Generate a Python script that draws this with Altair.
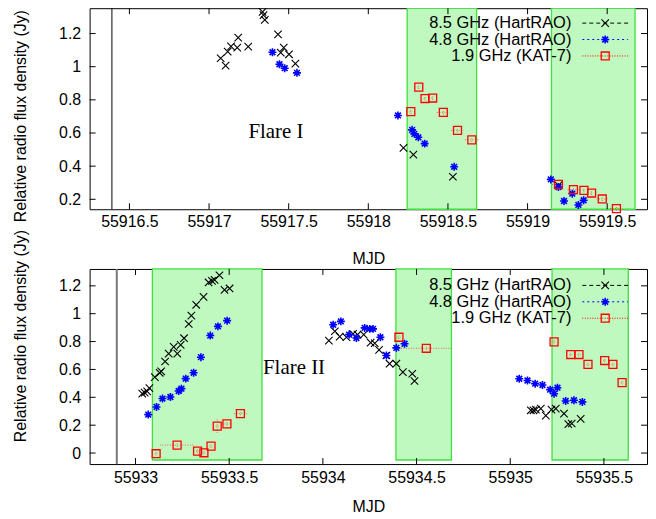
import altair as alt
import pandas as pd

# ---------------- Flare I (top panel) ----------------
f1_85_mjd = [55917.073, 55917.104, 55917.117, 55917.138, 55917.177, 55917.183, 55917.246,
             55917.336, 55917.342, 55917.350, 55917.433, 55917.450, 55917.469, 55917.502,
             55917.542, 55918.221, 55918.283, 55918.531, 55919.194]
f1_85_val = [1.051, 1.007, 1.091, 1.123, 1.115, 1.175, 1.121,
             1.331, 1.311, 1.283, 1.195, 1.085, 1.115, 1.075,
             1.019, 0.510, 0.470, 0.336, 0.284]

f1_48_mjd = [55917.398, 55917.442, 55917.475, 55917.552, 55918.186, 55918.275, 55918.289,
             55918.314, 55918.354, 55918.539, 55919.146, 55919.194, 55919.229, 55919.281,
             55919.319, 55919.352]
f1_48_val = [1.087, 1.015, 0.991, 0.963, 0.706, 0.619, 0.595,
             0.574, 0.536, 0.396, 0.320, 0.274, 0.190, 0.234,
             0.166, 0.194]

f1_19_mjd = [55918.267, 55918.317, 55918.356, 55918.404, 55918.471, 55918.560, 55918.650,
             55919.194, 55919.288, 55919.354, 55919.402, 55919.469, 55919.558]
f1_19_val = [0.729, 0.877, 0.808, 0.811, 0.724, 0.616, 0.559,
             0.290, 0.258, 0.254, 0.238, 0.202, 0.144]
f1_19_xerr = [0.008, 0.008, 0.008, 0.008, 0.040, 0.040, 0.043,
              0.040, 0.036, 0.008, 0.008, 0.036, 0.040]
f1_19_yerr = [0.012] * 13

f1_band_start = [55918.244, 55919.150]
f1_band_end = [55918.680, 55919.675]
f1_vline = [55916.39]
f1_xticks = [55916.5, 55917, 55917.5, 55918, 55918.5, 55919, 55919.5]
f1_yticks = [0.2, 0.4, 0.6, 0.8, 1, 1.2]

# ---------------- Flare II (bottom panel) ----------------
f2_85_mjd = [55933.036, 55933.049, 55933.062, 55933.074, 55933.103, 55933.129, 55933.137,
             55933.158, 55933.177, 55933.204, 55933.223, 55933.241, 55933.259, 55933.284,
             55933.298, 55933.324, 55933.363, 55933.390, 55933.408, 55933.422, 55933.448,
             55933.475, 55933.502,
             55934.032, 55934.064, 55934.090, 55934.126, 55934.161, 55934.185, 55934.218,
             55934.255, 55934.277, 55934.300, 55934.339, 55934.356, 55934.392, 55934.427,
             55934.477, 55934.489,
             55935.110, 55935.124, 55935.137, 55935.163, 55935.190, 55935.220, 55935.243,
             55935.287, 55935.310, 55935.328, 55935.376]
f2_85_val = [0.426, 0.434, 0.443, 0.466, 0.545, 0.576, 0.586,
             0.657, 0.714, 0.762, 0.714, 0.776, 0.824, 0.926,
             0.986, 1.064, 1.121, 1.224, 1.236, 1.243, 1.276,
             1.171, 1.181,
             0.807, 0.874, 0.836, 0.831, 0.855, 0.850, 0.850,
             0.793, 0.788, 0.741, 0.700, 0.641, 0.641, 0.581,
             0.569, 0.517,
             0.307, 0.307, 0.312, 0.319, 0.269, 0.312, 0.319,
             0.283, 0.207, 0.212, 0.245]

f2_48_mjd = [55933.068, 55933.112, 55933.144, 55933.186, 55933.230, 55933.245, 55933.268,
             55933.310, 55933.349, 55933.399, 55933.440, 55933.489,
             55934.055, 55934.096, 55934.140, 55934.179, 55934.223, 55934.250, 55934.268,
             55934.307, 55934.339, 55934.392, 55934.436,
             55935.048, 55935.092, 55935.133, 55935.172, 55935.213, 55935.234, 55935.252,
             55935.296, 55935.340, 55935.385]
f2_48_val = [0.276, 0.331, 0.391, 0.402, 0.445, 0.462, 0.534,
             0.576, 0.688, 0.843, 0.909, 0.950,
             0.921, 0.945, 0.850, 0.826, 0.898, 0.891, 0.891,
             0.831, 0.700, 0.755, 0.784,
             0.533, 0.521, 0.498, 0.488, 0.455, 0.426, 0.469,
             0.374, 0.379, 0.367]

f2_19_mjd = [55933.110, 55933.222, 55933.331, 55933.365, 55933.403, 55933.436, 55933.488,
             55933.560, 55934.406, 55934.552, 55935.234, 55935.323, 55935.367, 55935.415,
             55935.504, 55935.548, 55935.597]
f2_19_val = [-0.005, 0.057, 0.014, 0.002, 0.050, 0.193, 0.209,
             0.283, 0.831, 0.752, 0.798, 0.707, 0.707, 0.636,
             0.664, 0.636, 0.505]
f2_19_xerr = [0.008, 0.092, 0.008, 0.008, 0.008, 0.008, 0.027,
              0.035, 0.008, 0.135, 0.008, 0.008, 0.008, 0.008,
              0.008, 0.008, 0.008]
f2_19_yerr = [0.012, 0.012, 0.012, 0.012, 0.012, 0.048, 0.012,
              0.012, 0.012, 0.012, 0.012, 0.012, 0.012, 0.012,
              0.012, 0.012, 0.012]

f2_band_start = [55933.090, 55934.390, 55935.223]
f2_band_end = [55933.675, 55934.686, 55935.630]
f2_vline = [55932.90]
f2_xticks = [55933, 55933.5, 55934, 55934.5, 55935, 55935.5]
f2_yticks = [0, 0.2, 0.4, 0.6, 0.8, 1, 1.2]

legend_labels = ["8.5 GHz (HartRAO)", "4.8 GHz (HartRAO)", "1.9 GHz (KAT-7)"]

# ---------------- styling ----------------
FONT = "Liberation Sans"
SERIF = "Liberation Serif"
X_SHAPE = "M-1,-1L1,1M-1,1L1,-1"
STAR_SHAPE = "M-1,0L1,0M0,-1L0,1M-0.72,-0.72L0.72,0.72M-0.72,0.72L0.72,-0.72"
BAND_FILL = "#c0f9c0"
BAND_STROKE = "#3fe03f"
W = 560


def panel(p):
    H = p["H"]
    xs = alt.Scale(domain=p["xdom"], nice=False, zero=False)
    ys = alt.Scale(domain=p["ydom"], nice=False, zero=False)
    xa = alt.Axis(
        values=p["xt"], format="~g", ticks=False, domain=False, grid=False,
        labelFont=FONT, labelFontSize=16, labelColor="black", labelPadding=p["xlab_pad"],
        labelFlush=False, labelOverlap=False,
        title="MJD", titleFont=FONT, titleFontSize=16, titleFontWeight="normal",
        titleColor="black", titleY=p["xtitle_y"], titleBaseline="middle")
    ya = alt.Axis(
        values=p["yt"], format="~g", ticks=False, domain=False, grid=False,
        labelFont=FONT, labelFontSize=16, labelColor="black", labelPadding=9,
        title="Relative radio flux density (Jy)", titleFont=FONT, titleFontSize=16,
        titleFontWeight="normal", titleColor="black", titleAngle=270,
        titleX=-69, titleY=p["ytitle_y"], titleBaseline="middle", titleAlign="center")

    def X(f):
        return alt.X(f, scale=xs, axis=xa)

    def Y(f):
        return alt.Y(f, scale=ys, axis=ya)

    bands = pd.DataFrame({"x0": p["b0"], "x1": p["b1"],
                          "y0": [p["band_y"][0]] * len(p["b0"]),
                          "y1": [p["band_y"][1]] * len(p["b0"])})
    band = alt.Chart(bands).mark_rect(fill=BAND_FILL, stroke=BAND_STROKE, strokeWidth=1.3).encode(
        x=X("x0:Q"), x2="x1", y=Y("y0:Q"), y2="y1")

    vline = alt.Chart(pd.DataFrame({"v": p["vline"]})).mark_rule(
        color=p["vline_color"], strokeWidth=p["vline_w"]).encode(
        x=X("v:Q"), y=alt.value(0), y2=alt.value(H))

    d85 = pd.DataFrame({"mjd": p["m85"], "val": p["v85"]})
    d48 = pd.DataFrame({"mjd": p["m48"], "val": p["v48"]})
    d19 = pd.DataFrame({"mjd": p["m19"], "val": p["v19"], "xe": p["xe19"], "ye": p["ye19"]})
    d19["lo"] = d19["mjd"] - d19["xe"]
    d19["hi"] = d19["mjd"] + d19["xe"]
    d19["ylo"] = d19["val"] - d19["ye"]
    d19["yhi"] = d19["val"] + d19["ye"]

    xerr = alt.Chart(d19).mark_rule(color="#ff3030", strokeDash=[1, 1.5], opacity=0.75).encode(
        x=X("lo:Q"), x2="hi", y=Y("val:Q"))
    yerr = alt.Chart(d19).mark_rule(color="#ff3030", strokeDash=[1, 1.5], opacity=0.75).encode(
        x=X("mjd:Q"), y=Y("ylo:Q"), y2="yhi")

    p85 = alt.Chart(d85).mark_point(shape=X_SHAPE, size=56, color="black", strokeWidth=1.1,
                                    filled=False, opacity=1).encode(x=X("mjd:Q"), y=Y("val:Q"))
    p48 = alt.Chart(d48).mark_point(shape=STAR_SHAPE, size=64, color="#0000ff", strokeWidth=1.6,
                                    filled=False, opacity=1).encode(x=X("mjd:Q"), y=Y("val:Q"))
    p19 = alt.Chart(d19).mark_point(shape="square", size=64, color="#ff0000", strokeWidth=1.3,
                                    filled=False, opacity=1).encode(x=X("mjd:Q"), y=Y("val:Q"))

    label = alt.Chart(pd.DataFrame({"x": [p["lab_x"]], "y": [p["lab_y"]], "t": [p["lab"]]})).mark_text(
        font=SERIF, fontSize=21, color="black").encode(x=X("x:Q"), y=Y("y:Q"), text="t:N")

    # inward ticks on all four sides
    xt = pd.DataFrame({"t": p["xt"]})
    yt = pd.DataFrame({"t": p["yt"]})
    tk = dict(color="black", strokeWidth=1)
    xb = alt.Chart(xt).mark_rule(**tk).encode(x=X("t:Q"), y=alt.value(H), y2=alt.value(H - 6))
    xtop = alt.Chart(xt).mark_rule(**tk).encode(x=X("t:Q"), y=alt.value(0), y2=alt.value(6))
    yl = alt.Chart(yt).mark_rule(**tk).encode(y=Y("t:Q"), x=alt.value(0), x2=alt.value(6))
    yr = alt.Chart(yt).mark_rule(**tk).encode(y=Y("t:Q"), x=alt.value(W - 6), x2=alt.value(W))

    # legend (inside plot, top right)
    leg = []
    styles = [("black", [4, 3], X_SHAPE, 56, 1.1),
              ("#0000ff", [2, 3], STAR_SHAPE, 64, 1.6),
              ("#ff0000", [1, 1.5], "square", 64, 1.3)]
    for i, (lab, st) in enumerate(zip(legend_labels, styles)):
        col, dash, shp, sz, sw = st
        ry = p["leg_y"][i]
        one = pd.DataFrame({"t": [lab]})
        leg.append(alt.Chart(one).mark_text(font=FONT, fontSize=16.5, align="right",
                                            baseline="middle", color="black").encode(
            text="t:N", x=alt.value(484), y=alt.value(ry)))
        leg.append(alt.Chart(one).mark_rule(color=col, strokeDash=dash, strokeWidth=1).encode(
            x=alt.value(495), x2=alt.value(541), y=alt.value(ry)))
        leg.append(alt.Chart(one).mark_point(shape=shp, size=sz, color=col, strokeWidth=sw,
                                             filled=False, opacity=1).encode(
            x=alt.value(518), y=alt.value(ry)))

    return alt.layer(band, vline, xerr, yerr, p85, p48, p19, label,
                     xb, xtop, yl, yr, *leg).properties(width=W, height=H)


top = panel(dict(
    H=202, xdom=[55916.25, 55919.75], ydom=[0.14, 1.353],
    b0=f1_band_start, b1=f1_band_end, band_y=[0.14, 1.353],
    vline=f1_vline, vline_color="black", vline_w=1,
    xt=f1_xticks, yt=f1_yticks, xtitle_y=50, ytitle_y=108, xlab_pad=4,
    m85=f1_85_mjd, v85=f1_85_val, m48=f1_48_mjd, v48=f1_48_val,
    m19=f1_19_mjd, v19=f1_19_val, xe19=f1_19_xerr, ye19=f1_19_yerr,
    lab="Flare I", lab_x=55917.42, lab_y=0.605,
    leg_y=[15, 31.5, 48]))

bottom = panel(dict(
    H=196, xdom=[55932.755, 55935.73], ydom=[-0.079, 1.321],
    b0=f2_band_start, b1=f2_band_end, band_y=[-0.05, 1.321],
    vline=f2_vline, vline_color="#777777", vline_w=2,
    xt=f2_xticks, yt=f2_yticks, xtitle_y=43, ytitle_y=67, xlab_pad=6,
    m85=f2_85_mjd, v85=f2_85_val, m48=f2_48_mjd, v48=f2_48_val,
    m19=f2_19_mjd, v19=f2_19_val, xe19=f2_19_xerr, ye19=f2_19_yerr,
    lab="Flare II", lab_x=55933.846, lab_y=0.61,
    leg_y=[16.5, 33, 49.5]))

chart = alt.vconcat(top, bottom, spacing=60, bounds="flush").properties(
    padding={"left": 4, "top": -4, "right": 0, "bottom": 0},
    background="white",
).configure_view(stroke="black", strokeWidth=1)

chart.save("out.html", embed_options={"renderer": "svg", "actions": False})
